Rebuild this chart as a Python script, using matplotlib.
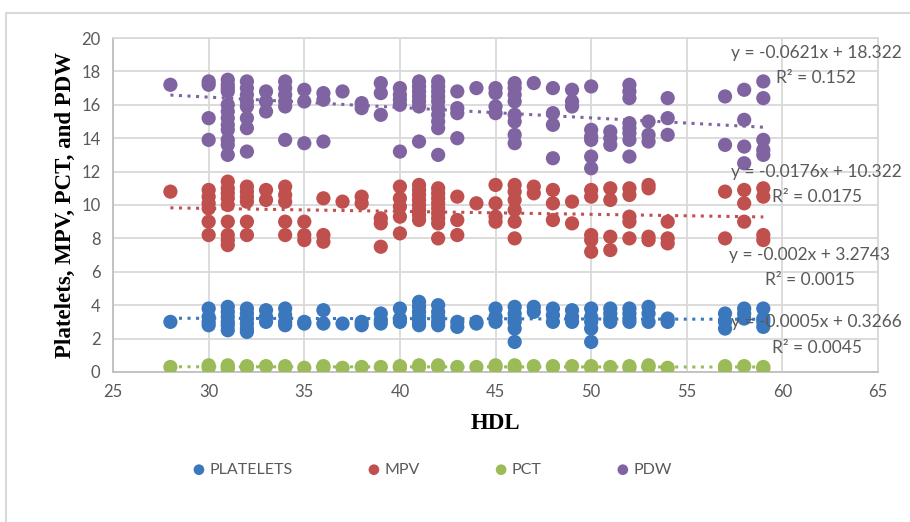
import matplotlib
matplotlib.use('Agg')
import matplotlib.pyplot as plt
from matplotlib.lines import Line2D

# 讀取圖中數值（HDL -> 各指標數值）
platelets = {
    28: [3.0], 30: [3.8, 3.3, 3.0, 2.8], 31: [3.9, 3.6, 3.3, 3.0, 2.8, 2.5],
    32: [3.8, 3.5, 3.2, 2.9, 2.6, 2.4], 33: [3.7, 3.3, 3.0], 34: [3.8, 3.4, 3.0, 2.8],
    35: [3.0, 2.9], 36: [3.7, 2.9], 37: [2.9], 38: [3.0, 2.8], 39: [3.5, 3.1, 2.9],
    40: [3.8, 3.2, 3.0], 41: [4.2, 3.9, 3.6, 3.3, 3.0, 2.8], 42: [4.0, 3.6, 3.3, 3.0, 2.8],
    43: [3.0, 2.7], 44: [3.0, 2.9], 45: [3.8, 3.3, 3.0], 46: [3.9, 3.5, 3.2, 3.0, 2.6, 1.8],
    47: [3.9, 3.6], 48: [3.8, 3.4, 3.0], 49: [3.7, 3.3, 3.0], 50: [3.8, 3.3, 3.0, 2.6, 1.8],
    51: [3.8, 3.5, 3.2, 3.0], 52: [3.8, 3.5, 3.2, 3.0], 53: [3.9, 3.5, 3.0], 54: [3.2, 3.0],
    57: [3.5, 3.0, 2.6], 58: [3.8, 3.5, 3.2], 59: [3.8, 3.2, 3.0, 2.7],
}
mpv = {
    28: [10.8], 30: [10.9, 10.5, 10.1, 9.8, 9.0, 8.2],
    31: [11.4, 11.0, 10.7, 10.4, 10.0, 9.0, 8.2, 7.9, 7.6],
    32: [11.1, 10.8, 10.5, 10.2, 9.0, 8.2], 33: [10.9, 10.3], 34: [11.1, 10.6, 10.2, 9.0, 8.2],
    35: [9.0, 8.2, 7.9], 36: [10.4, 8.2, 7.8], 37: [10.2], 38: [10.5, 10.1], 39: [9.2, 8.9, 7.5],
    40: [11.1, 10.4, 9.9, 9.3, 8.3], 41: [11.2, 10.9, 10.6, 10.3, 10.0, 9.7, 9.4, 9.1],
    42: [11.0, 10.7, 10.4, 10.1, 9.8, 9.5, 9.2, 8.9, 8.0], 43: [10.5, 9.1, 8.2], 44: [10.1],
    45: [11.2, 10.1, 9.3, 9.0], 46: [11.2, 10.8, 10.3, 9.7, 9.0, 8.0], 47: [11.1, 10.7],
    48: [10.9, 10.1, 9.1], 49: [10.2, 8.9], 50: [10.9, 10.5, 8.2, 7.9, 7.2],
    51: [11.0, 10.3, 8.1, 7.3], 52: [11.0, 10.6, 9.3, 9.0, 8.0], 53: [11.2, 11.0, 8.1, 7.9],
    54: [9.0, 8.0, 7.7], 57: [10.8, 8.0], 58: [10.9, 10.1, 9.0], 59: [11.0, 10.5, 8.2, 7.9],
}
pct = {
    28: [0.3], 30: [0.4, 0.25], 31: [0.4, 0.3, 0.2], 32: [0.35, 0.25], 33: [0.35],
    34: [0.35, 0.25], 35: [0.25], 36: [0.35, 0.25], 37: [0.25], 38: [0.3], 39: [0.3],
    40: [0.35, 0.25], 41: [0.4, 0.3], 42: [0.4, 0.3], 43: [0.3], 44: [0.3], 45: [0.4, 0.3],
    46: [0.4, 0.25], 47: [0.35], 48: [0.35, 0.3], 49: [0.35], 50: [0.35, 0.25], 51: [0.3],
    52: [0.35, 0.25], 53: [0.4, 0.3], 54: [0.25], 57: [0.35, 0.2], 58: [0.35], 59: [0.3, 0.2],
}
pdw = {
    28: [17.2], 30: [17.4, 17.2, 15.2, 13.9],
    31: [17.5, 17.2, 17.0, 16.8, 16.0, 15.6, 15.2, 14.8, 14.5, 13.9, 13.6, 13.0],
    32: [17.4, 17.0, 16.6, 16.2, 15.9, 15.2, 14.6, 13.2], 33: [16.8, 16.2, 15.6],
    34: [17.4, 17.0, 16.6, 16.2, 15.9, 13.9], 35: [16.9, 16.2, 13.7], 36: [16.7, 16.3, 13.8],
    37: [16.8], 38: [16.1, 15.8], 39: [17.3, 16.7, 15.4], 40: [17.0, 16.6, 16.3, 16.0, 13.2],
    41: [17.4, 17.1, 16.8, 16.5, 16.2, 15.9, 13.8],
    42: [17.4, 17.1, 16.8, 16.5, 16.2, 15.8, 15.4, 15.0, 14.6, 13.0],
    43: [16.8, 15.8, 15.5, 14.0], 44: [17.0], 45: [17.0, 16.7, 15.9, 15.5],
    46: [17.3, 17.0, 16.6, 16.2, 15.4, 15.0, 14.2, 13.7], 47: [17.3],
    48: [17.0, 15.5, 14.8, 12.8], 49: [16.9, 16.2, 15.9], 50: [17.1, 14.5, 14.1, 13.9, 12.9, 12.2],
    51: [14.4, 14.0, 13.6], 52: [17.2, 16.8, 16.4, 14.9, 14.6, 14.3, 13.9, 12.9],
    53: [15.0, 14.2, 13.8], 54: [16.4, 15.2, 14.2], 57: [16.5, 13.6],
    58: [16.9, 15.1, 13.5, 12.5], 59: [17.4, 16.4, 13.9, 13.3, 13.0],
}

series_names = ['PLATELETS', 'MPV', 'PCT', 'PDW']
series_data = [platelets, mpv, pct, pdw]
colors = ['#3A77BC', '#C0504D', '#9BBB59', '#8064A2']

# Excel 線性趨勢線 (斜率, 截距, R²)
slopes = [-0.002, -0.0176, -0.0005, -0.0621]
intercepts = [3.2743, 10.322, 0.3266, 18.322]
eq_labels = ['y = -0.002x + 3.2743', 'y = -0.0176x + 10.322',
             'y = -0.0005x + 0.3266', 'y = -0.0621x + 18.322']
r2_labels = ['R² = 0.0015', 'R² = 0.0175', 'R² = 0.0045', 'R² = 0.152']
eq_pos = [(61.4, 7.0), (61.75, 12.0), (61.75, 3.0), (61.75, 19.1)]
r2_pos = [(61.45, 5.5), (61.8, 10.5), (61.8, 1.45), (61.75, 17.6)]

x_min, x_max = 28, 59

plt.rcParams['font.family'] = ['Lato', 'DejaVu Sans']

fig = plt.figure(figsize=(9.1, 5.22), dpi=100)
ax = fig.add_axes([0.1242, 0.2874, 0.8407, 0.6398])

for name, data, c in zip(series_names, series_data, colors):
    xs = [k for k, vals in data.items() for _ in vals]
    ys = [v for vals in data.values() for v in vals]
    ax.scatter(xs, ys, s=105, color=c, edgecolors='none', label=name, zorder=3)

for i, c in enumerate(colors):
    ax.plot([x_min, x_max],
            [slopes[i] * x_min + intercepts[i], slopes[i] * x_max + intercepts[i]],
            color=c, linestyle=(0, (1, 1.8)), linewidth=2.2, zorder=4)
    ax.text(*eq_pos[i], eq_labels[i], ha='center', va='center', fontsize=12.5,
            color='#595959', clip_on=False, zorder=5)
    ax.text(*r2_pos[i], r2_labels[i], ha='center', va='center', fontsize=12.5,
            color='#595959', clip_on=False, zorder=5)

ax.set_xlim(25, 65)
ax.set_ylim(0, 20)
ax.set_xticks(range(25, 66, 5))
ax.set_yticks(range(0, 21, 2))
ax.grid(True, color='#D9D9D9', linewidth=1.3)
ax.set_axisbelow(True)
for s in ax.spines.values():
    s.set_color('#D9D9D9')
    s.set_linewidth(1.3)
ax.spines['left'].set_color('#BFBFBF')
ax.spines['bottom'].set_color('#BFBFBF')
ax.tick_params(length=0, labelsize=12, labelcolor='#595959', pad=9)

ax.set_xlabel('HDL', family='Liberation Serif', fontweight='bold', fontsize=16.5, labelpad=9)
ax.set_ylabel('Platelets, MPV, PCT, and PDW', family='Liberation Serif',
              fontweight='bold', fontsize=16.5, labelpad=4)

ax.legend(loc='center', bbox_to_anchor=(0.474, 0.10), bbox_transform=fig.transFigure,
          ncol=4, frameon=False, fontsize=11.5, labelcolor='#595959', markerscale=0.75,
          handlelength=1.0, handletextpad=0.15, columnspacing=4.6)

# 外框（只露出左與上）
fig.add_artist(Line2D([6 / 910, 6 / 910, 1.0], [0.0, 1 - 13 / 522, 1 - 13 / 522],
                      transform=fig.transFigure, color='#D9D9D9', linewidth=1.5))

plt.savefig('out.png', dpi=100)
